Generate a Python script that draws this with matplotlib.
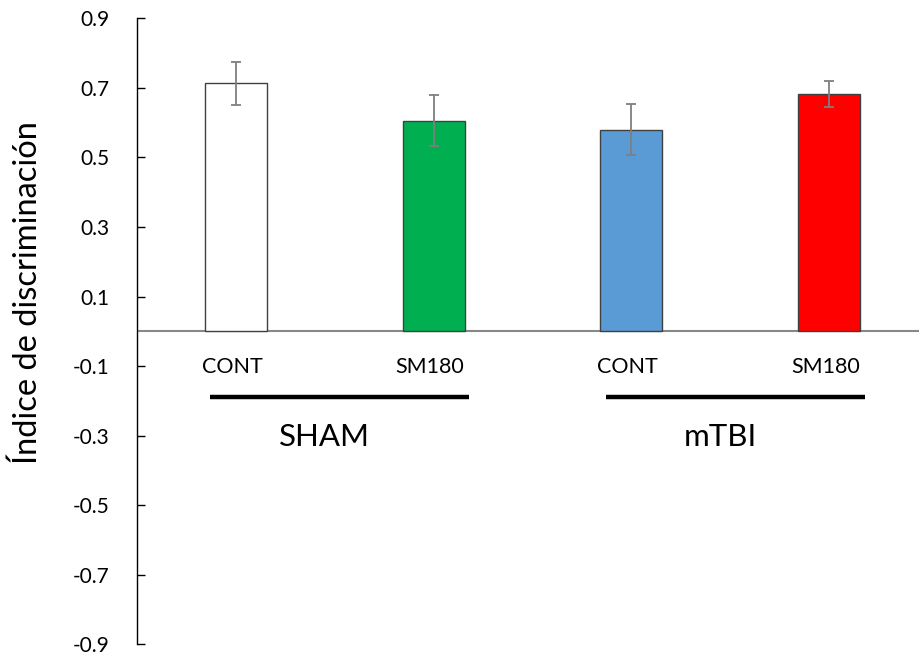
import matplotlib
matplotlib.use("Agg")
import matplotlib.pyplot as plt
import numpy as np

# Discrimination index by treatment and injury group
groups = ["SHAM", "mTBI"]
treatments = ["CONT", "SM180", "CONT", "SM180"]
means = [0.713, 0.606, 0.580, 0.683]
errors = [0.062, 0.074, 0.074, 0.038]
colors = ["#FFFFFF", "#00B050", "#5B9BD5", "#FF0000"]
yticks = [-0.9, -0.7, -0.5, -0.3, -0.1, 0.1, 0.3, 0.5, 0.7, 0.9]

font = ["Lato", "DejaVu Sans"]
plt.rcParams["font.family"] = font

fig = plt.figure(figsize=(9.19, 6.55), dpi=100)
ax = fig.add_axes([0.1491, 0.0163, 0.8607, 0.9558])

x = np.arange(len(means))
ax.bar(x, means, width=0.313, color=colors, edgecolor="#404040", linewidth=1.0, zorder=2)
ax.errorbar(x, means, yerr=errors, fmt="none", ecolor="#7F7F7F", elinewidth=1.3,
            capsize=3.5, capthick=1.3, zorder=3)

ax.set_xlim(-0.5, 3.5)
ax.set_ylim(-0.9, 0.9)
ax.set_yticks(yticks)
ax.set_yticklabels([f"{v:.1f}" for v in yticks], fontsize=15)
ax.tick_params(axis="y", direction="in", length=6, width=1, pad=20, colors="black")
ax.set_xticks([])

for side in ["top", "right", "bottom"]:
    ax.spines[side].set_visible(False)
ax.spines["left"].set_linewidth(1.0)

# zero reference line
ax.axhline(0, color="#888888", linewidth=1.5, zorder=1)

# treatment labels under each bar
for xi, lab in zip(x, treatments):
    ax.text(xi - 0.02, -0.104, lab, ha="center", va="center", fontsize=15.5)

# group underlines and names
for gi, g in enumerate(groups):
    x0 = x[2 * gi] - 0.13
    x1 = x[2 * gi + 1] + 0.18
    ax.plot([x0, x1], [-0.19, -0.19], color="black", linewidth=3.2,
            solid_capstyle="butt", clip_on=False)
    ax.text((x[2 * gi] + x[2 * gi + 1]) / 2 - 0.05, -0.305, g,
            ha="center", va="center", fontsize=22.5)

fig.text(0.030, 0.553, "Índice de discriminación", rotation=90, ha="center",
         va="center", fontsize=23.5)

fig.savefig("out.png", dpi=100)
